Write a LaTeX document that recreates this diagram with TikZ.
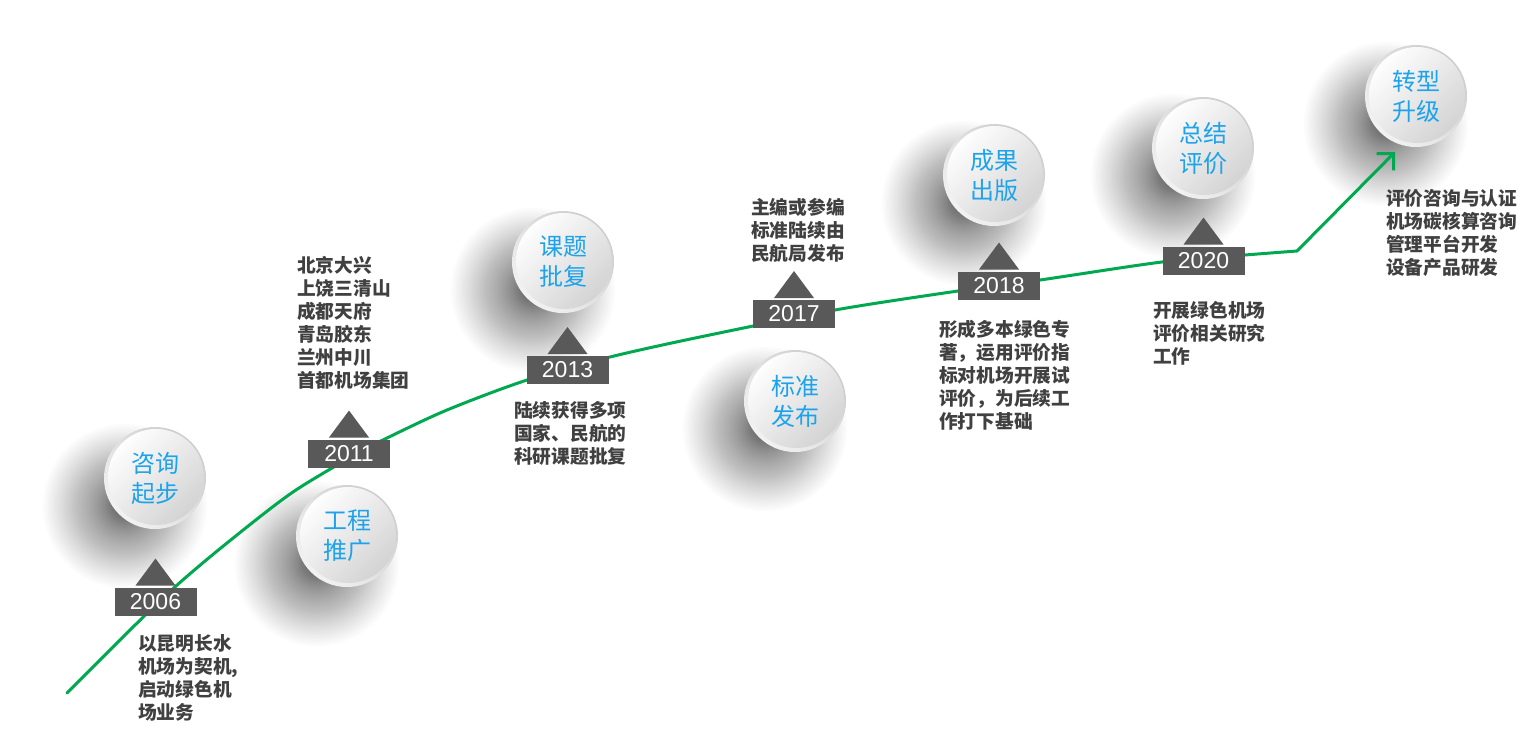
\documentclass[tikz,border=0pt]{standalone}
\usepackage{fontspec}
\setmainfont{Liberation Sans}
\newfontfamily\cjk{Noto Sans CJK SC}
\usetikzlibrary{arrows.meta}
\definecolor{blueT}{HTML}{1CA3EC}
\definecolor{textgray}{HTML}{404040}
\definecolor{markgray}{HTML}{595959}
\definecolor{lineGreen}{HTML}{00A850}
\definecolor{rimdark}{HTML}{CDCDCD}
\definecolor{rimlight}{HTML}{F2F2F2}
\definecolor{diskgray}{HTML}{D2D2D2}
\begin{document}
\begin{tikzpicture}[x=1pt,y=-1pt,
  bubble/.style={circle, minimum size=102pt, inner sep=0pt, shading=axis,
    top color=rimdark, bottom color=rimlight, shading angle=-45,
    text=blueT, font=\cjk\fontsize{24}{30}\selectfont, align=center,
    path picture={\shade[top color=white, bottom color=diskgray, shading angle=45]
      ([xshift=1pt,yshift=1pt]path picture bounding box.center) circle (48pt);}},
  yearbox/.style={rectangle, fill=markgray, minimum width=82pt, minimum height=28pt,
    inner sep=0pt, text=white, font=\fontsize{23}{23}\selectfont},
  desc/.style={anchor=north west, inner sep=0pt, align=left, text=textgray,
    font=\cjk\bfseries\fontsize{18.7}{23}\selectfont},
  greenline/.style={draw=lineGreen, line width=3pt, line cap=round, line join=round},
  shadowlayer/.style={fill=black, opacity=0.014}
]
\useasboundingbox (0,0) rectangle (1536,734);
\fill[white] (0,0) rectangle (1536,734);

% bubble centres
\coordinate (p1) at (155,478);
\coordinate (p2) at (347,536);
\coordinate (p3) at (563,262);
\coordinate (p4) at (795,401);
\coordinate (p5) at (994,175);
\coordinate (p6) at (1203,148);
\coordinate (p7) at (1416,96);

% soft shadows
\foreach \p in {p1,p2,p3,p4,p5,p6,p7}{
  \foreach \k in {0,...,60}{
    \fill[shadowlayer, shift={(\p)}] (-30,28) circle[radius={82*(1-\k/66)^2*1pt}];
  }
}

% green timeline
\coordinate (lstart) at (67,693);
\coordinate (lbend) at (1297,251);
\coordinate (ltip) at (1395,152);
\draw[greenline, -{Straight Barb[length=12pt,width=24pt]}]
  plot[smooth, tension=0.5] coordinates {(lstart) (130,630) (176,586) (227,543) (293,492)
    (360,452) (387,438) (447,410) (527,380) (610,357) (700,337) (835,310) (958,291)
    (1040,280) (1162,262) (1245,255) (lbend)} -- (ltip);

% year markers
\foreach \n/\x/\y in {2006/155.5/601.5, 2011/349/453.5, 2013/567.5/370,
                      2017/794/314, 2018/999/285.5, 2020/1203.5/260.5}{
  \node[yearbox] (y\n) at (\x,\y) {\n};
  \fill[markgray, shift={(y\n.center)}] (-20,-16) -- (20,-16) -- (0,-43) -- cycle;
}

% bubbles
\node[bubble] (b1) at (p1) {咨询\\起步};
\node[bubble] (b2) at (p2) {工程\\推广};
\node[bubble] (b3) at (p3) {课题\\批复};
\node[bubble] (b4) at (p4) {标准\\发布};
\node[bubble] (b5) at (p5) {成果\\出版};
\node[bubble] (b6) at (p6) {总结\\评价};
\node[bubble] (b7) at (p7) {转型\\升级};

% descriptions
\node[desc] (d2006) at (138,634) {以昆明长水\\机场为契机,\\启动绿色机\\场业务};
\node[desc] (d2011) at (297,256) {北京大兴\\上饶三清山\\成都天府\\青岛胶东\\兰州中川\\首都机场集团};
\node[desc] (d2013) at (514,401) {陆续获得多项\\国家、民航的\\科研课题批复};
\node[desc] (d2017) at (751,198) {主编或参编\\标准陆续由\\民航局发布};
\node[desc] (d2018) at (939,320) {形成多本绿色专\\著，运用评价指\\标对机场开展试\\评价，为后续工\\作打下基础};
\node[desc] (d2020) at (1153,301) {开展绿色机场\\评价相关研究\\工作};
\node[desc] (dend) at (1386,189) {评价咨询与认证\\机场碳核算咨询\\管理平台开发\\设备产品研发};
\end{tikzpicture}
\end{document}
